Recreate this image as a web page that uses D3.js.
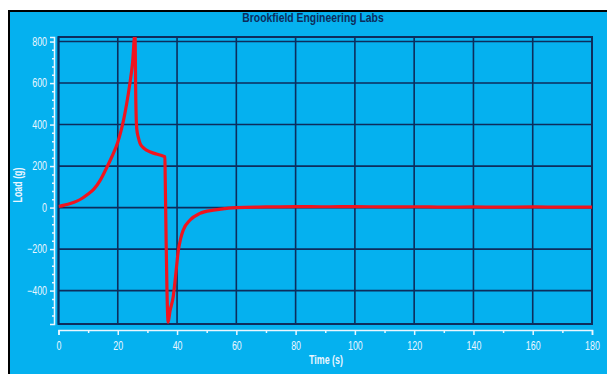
<!DOCTYPE html>
<html>
<head>
<meta charset="utf-8">
<script src="https://cdn.jsdelivr.net/npm/d3@7"></script>
<style>
  html, body { margin: 0; padding: 0; background: #fff; }
  svg { display: block; }
  text { font-family: "Liberation Sans", Arial, sans-serif; }
</style>
</head>
<body>
<div id="chart"></div>
<script>
// readings: time (s) and load (g)
const times = [0, 2, 4, 6, 8, 10, 12, 14, 16, 18, 20, 21, 22, 23, 24, 25, 25.8,
  26.1, 26.4, 27, 27.5, 28.5, 29.7, 31, 33, 35, 35.9, 36.0, 36.3, 36.6, 37.0,
  37.6, 38.7, 39.5, 40.4, 41.2, 42.1, 44.4, 47.7, 52.2, 56, 60, 70, 80, 90,
  100, 110, 120, 130, 140, 150, 160, 170, 180];
const loads = [5, 12, 20, 30, 45, 65, 90, 130, 185, 245, 315, 365, 425, 500, 590, 700, 840,
  500, 380, 335, 310, 290, 277, 268, 258, 250, 245, 150, -150, -400, -552,
  -500, -430, -330, -210, -150, -108, -60, -28, -12, -5, 0, 3, 5, 4,
  5, 3, 4, 2, 3, 2, 3, 2, 2];

const xTicks = [0, 20, 40, 60, 80, 100, 120, 140, 160, 180];
const xMinor = [10, 30, 50, 70, 90, 110, 130, 150, 170];
const yTicks = [-400, -200, 0, 200, 400, 600, 800];
const yMinor = [-520, -480, -440, -360, -320, -280, -240, -160, -120, -80, -40,
  40, 80, 120, 160, 240, 280, 320, 360, 440, 480, 520, 560, 640, 680, 720, 760];

const title = "Brookfield Engineering Labs";
const xLabel = "Time (s)";
const yLabel = "Load (g)";

const W = 607, H = 374;
const plot = { left: 58.5, right: 592, top: 37, bottom: 324 };
const bg = "#05b1ef", grid = "#0d2d5c", ink = "#eaf6ff", red = "#f0141e";
const narrow = 0.74; // the original uses a condensed face

const svg = d3.select("#chart").append("svg")
  .attr("width", W).attr("height", H);

// outer panel with black frame on left and top
svg.append("rect").attr("x", 9).attr("y", 11).attr("width", W - 9).attr("height", H - 11)
  .attr("fill", bg);
svg.append("line").attr("x1", 9).attr("x2", 9).attr("y1", 10).attr("y2", H)
  .attr("stroke", "#000").attr("stroke-width", 2);
svg.append("line").attr("x1", 8).attr("x2", W).attr("y1", 11).attr("y2", 11)
  .attr("stroke", "#000").attr("stroke-width", 2);

const x = d3.scaleLinear().domain([0, 180]).range([plot.left, plot.right]);
const y = d3.scaleLinear().domain([-561, 822]).range([plot.bottom, plot.top]);

// grid
const g = svg.append("g");
g.selectAll(".vg").data(xTicks).enter().append("line")
  .attr("x1", d => x(d)).attr("x2", d => x(d))
  .attr("y1", plot.top).attr("y2", plot.bottom)
  .attr("stroke", grid).attr("stroke-width", 1.6);
g.selectAll(".hg").data(yTicks).enter().append("line")
  .attr("x1", plot.left).attr("x2", plot.right)
  .attr("y1", d => y(d)).attr("y2", d => y(d))
  .attr("stroke", grid).attr("stroke-width", 1.6);
g.append("rect")
  .attr("x", plot.left).attr("y", plot.top)
  .attr("width", plot.right - plot.left).attr("height", plot.bottom - plot.top)
  .attr("fill", "none").attr("stroke", grid).attr("stroke-width", 2);

// curve
svg.append("clipPath").attr("id", "clip").append("rect")
  .attr("x", plot.left).attr("y", plot.top)
  .attr("width", plot.right - plot.left).attr("height", plot.bottom - plot.top);
const pts = times.map((t, i) => [t, loads[i]]);
svg.append("path").datum(pts)
  .attr("clip-path", "url(#clip)")
  .attr("d", d3.line().x(d => x(d[0])).y(d => y(d[1])).curve(d3.curveMonotoneX))
  .attr("fill", "none").attr("stroke", red).attr("stroke-width", 3.2)
  .attr("stroke-linejoin", "round");

// x axis
svg.append("g").attr("transform", "translate(0,330)")
  .call(d3.axisBottom(x).tickValues(xTicks).tickSize(5).tickPadding(6).tickFormat(d3.format("d")));
svg.append("g").attr("transform", "translate(0,330)")
  .call(d3.axisBottom(x).tickValues(xMinor).tickSize(3).tickFormat(""))
  .select(".domain").remove();

// y axis
svg.append("g").attr("class", "yax").attr("transform", "translate(54,0)")
  .call(d3.axisLeft(y).tickValues(yTicks).tickSize(4).tickPadding(2).tickFormat(d3.format("d")));
svg.append("g").attr("transform", "translate(54,0)")
  .call(d3.axisLeft(y).tickValues(yMinor).tickSize(2).tickFormat(""))
  .select(".domain").remove();

svg.selectAll(".domain").attr("stroke", ink).attr("stroke-width", 1.5);
svg.selectAll(".tick line").attr("stroke", ink).attr("stroke-width", 1.5);
svg.selectAll(".tick text").attr("fill", ink).style("font-size", "12px")
  .attr("transform", `scale(${narrow},1)`);
svg.selectAll(".yax .tick text").attr("x", -7 / narrow);

// titles
svg.append("text").attr("transform", `translate(313,22) scale(0.8,1)`)
  .attr("text-anchor", "middle")
  .attr("fill", grid).style("font-size", "13px").style("font-weight", "bold")
  .text(title);
svg.append("text").attr("transform", `translate(326,364) scale(${narrow},1)`)
  .attr("text-anchor", "middle")
  .attr("fill", ink).style("font-size", "12px").style("font-weight", "bold")
  .text(xLabel);
svg.append("text").attr("transform", `translate(22,185) rotate(-90) scale(${narrow},1)`)
  .attr("text-anchor", "middle")
  .attr("fill", ink).style("font-size", "12px").style("font-weight", "bold")
  .text(yLabel);
</script>
</body>
</html>
